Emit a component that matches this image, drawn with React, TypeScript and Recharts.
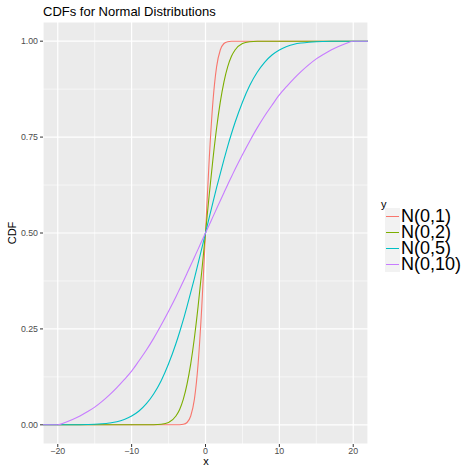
import React from 'react';
import { LineChart, Line, XAxis, YAxis, CartesianGrid, ReferenceLine } from 'recharts';

// x grid shared by all four curves (finer steps near 0 where N(0,1) is steep)
const xs = [
  -22, -20, -19, -18, -17, -16, -15, -14, -13, -12, -11, -10, -9, -8, -7, -6, -5, -4,
  -3.5, -3, -2.5, -2, -1.5, -1, -0.5, 0, 0.5, 1, 1.5, 2, 2.5, 3, 3.5,
  4, 5, 6, 7, 8, 9, 10, 11, 12, 13, 14, 15, 16, 17, 18, 19, 20, 22,
];

const cdf1 = [
  0, 0, 0, 0, 0, 0, 0, 0, 0, 0, 0, 0, 0, 0, 0, 0, 0, 0,
  0.0002, 0.0013, 0.006, 0.023, 0.067, 0.159, 0.309, 0.5, 0.691, 0.841, 0.933, 0.977, 0.994, 0.9987, 0.9998,
  1, 1, 1, 1, 1, 1, 1, 1, 1, 1, 1, 1, 1, 1, 1, 1, 1, 1,
];

const cdf2 = [
  0, 0, 0, 0, 0, 0, 0, 0, 0, 0, 0, 0, 0, 0.0001, 0.0002, 0.0013, 0.006, 0.023,
  0.04, 0.067, 0.106, 0.159, 0.227, 0.309, 0.401, 0.5, 0.599, 0.691, 0.773, 0.841, 0.894, 0.933, 0.96,
  0.977, 0.994, 0.9987, 0.9998, 0.9999, 1, 1, 1, 1, 1, 1, 1, 1, 1, 1, 1, 1, 1,
];

const cdf5 = [
  0, 0, 0.0001, 0.0002, 0.0003, 0.0007, 0.0013, 0.0026, 0.0047, 0.008, 0.014, 0.023, 0.036, 0.055, 0.081, 0.115, 0.159, 0.212,
  0.242, 0.274, 0.309, 0.345, 0.382, 0.421, 0.46, 0.5, 0.54, 0.579, 0.618, 0.655, 0.691, 0.726, 0.758,
  0.788, 0.841, 0.885, 0.919, 0.945, 0.964, 0.977, 0.986, 0.992, 0.9953, 0.9974, 0.9987, 0.9993, 0.9997, 0.9998, 0.9999, 1, 1,
];

const cdf10 = [
  0, 0, 0.006, 0.014, 0.023, 0.034, 0.046, 0.061, 0.078, 0.097, 0.118, 0.14, 0.167, 0.195, 0.226, 0.26, 0.296, 0.334,
  0.354, 0.374, 0.395, 0.416, 0.437, 0.458, 0.479, 0.5, 0.521, 0.542, 0.563, 0.584, 0.605, 0.626, 0.646,
  0.666, 0.704, 0.74, 0.774, 0.805, 0.833, 0.86, 0.882, 0.903, 0.922, 0.939, 0.954, 0.966, 0.977, 0.986, 0.994, 1, 1,
];

const seriesNames = ['N(0,1)', 'N(0,2)', 'N(0,5)', 'N(0,10)'];
const seriesColors = ['#F8766D', '#7CAE00', '#00BFC4', '#C77CFF'];
const seriesValues = [cdf1, cdf2, cdf5, cdf10];

const xTicks = [-20, -10, 0, 10, 20];
const xMinor = [-15, -5, 5, 15];
const yTicks = [0, 0.25, 0.5, 0.75, 1];
const yMinor = [0.125, 0.375, 0.625, 0.875];

const data = xs.map((x, i) => {
  const row: any = { x };
  seriesValues.forEach((vals, k) => {
    row['s' + k] = vals[i];
  });
  return row;
});

const font = '"Liberation Sans", Arial, Helvetica, sans-serif';
const tickStyle = { fill: '#4D4D4D', fontSize: 8.8, fontFamily: font };

export default function App() {
  return (
    <div style={{ position: 'absolute', left: 0, top: 0, width: 466, height: 468, background: '#fff', fontFamily: font }}>
      <div style={{ position: 'absolute', left: 43, top: 5, fontSize: 13, lineHeight: '13px', color: '#000', whiteSpace: 'nowrap' }}>
        CDFs for Normal Distributions
      </div>
      <LineChart
        width={466}
        height={468}
        data={data}
        margin={{ top: 22, right: 98, bottom: 0, left: 0 }}
      >
        <CartesianGrid fill="#EBEBEB" stroke="#FFFFFF" strokeWidth={1.2} />
        {xMinor.map((v) => (
          <ReferenceLine key={'xm' + v} x={v} stroke="#FFFFFF" strokeWidth={0.6} />
        ))}
        {yMinor.map((v) => (
          <ReferenceLine key={'ym' + v} y={v} stroke="#FFFFFF" strokeWidth={0.6} />
        ))}
        <XAxis
          type="number"
          dataKey="x"
          domain={[-22, 22]}
          ticks={xTicks}
          allowDataOverflow
          tickFormatter={(v: number) => String(v).replace('-', '\u2212')}
          axisLine={false}
          tickLine={{ stroke: '#333333' }}
          tickSize={3}
          tickMargin={1}
          tick={tickStyle}
          height={24}
        />
        <YAxis
          type="number"
          domain={[-0.05, 1.05]}
          ticks={yTicks}
          allowDataOverflow
          tickFormatter={(v: number) => v.toFixed(2)}
          axisLine={false}
          tickLine={{ stroke: '#333333' }}
          tickSize={3}
          tickMargin={2}
          tick={tickStyle}
          width={43}
        />
        {seriesNames.map((name, k) => (
          <Line
            key={name}
            type="monotone"
            dataKey={'s' + k}
            name={name}
            stroke={seriesColors[k]}
            strokeWidth={1.1}
            dot={false}
            isAnimationActive={false}
          />
        ))}
      </LineChart>
      <div style={{ position: 'absolute', left: 201, top: 456, fontSize: 11, lineHeight: '11px', width: 10, textAlign: 'center' }}>
        x
      </div>
      <div
        style={{
          position: 'absolute',
          left: 12,
          top: 233,
          fontSize: 11,
          lineHeight: '11px',
          transform: 'translate(-50%, -50%) rotate(-90deg)',
          whiteSpace: 'nowrap',
        }}
      >
        CDF
      </div>
      <div style={{ position: 'absolute', left: 381, top: 199, fontSize: 11, lineHeight: '11px' }}>y</div>
      <div style={{ position: 'absolute', left: 385, top: 208 }}>
        {seriesNames.map((name, k) => (
          <div key={name} style={{ display: 'flex', alignItems: 'center', height: 16 }}>
            <div style={{ width: 15, height: 16, background: '#F2F2F2', position: 'relative', flex: 'none' }}>
              <div
                style={{ position: 'absolute', left: 1, right: 1, top: 7.5, height: 1, background: seriesColors[k] }}
              />
            </div>
            <div style={{ fontSize: 18, lineHeight: '16px', marginLeft: 1, whiteSpace: 'nowrap' }}>{name}</div>
          </div>
        ))}
      </div>
    </div>
  );
}
